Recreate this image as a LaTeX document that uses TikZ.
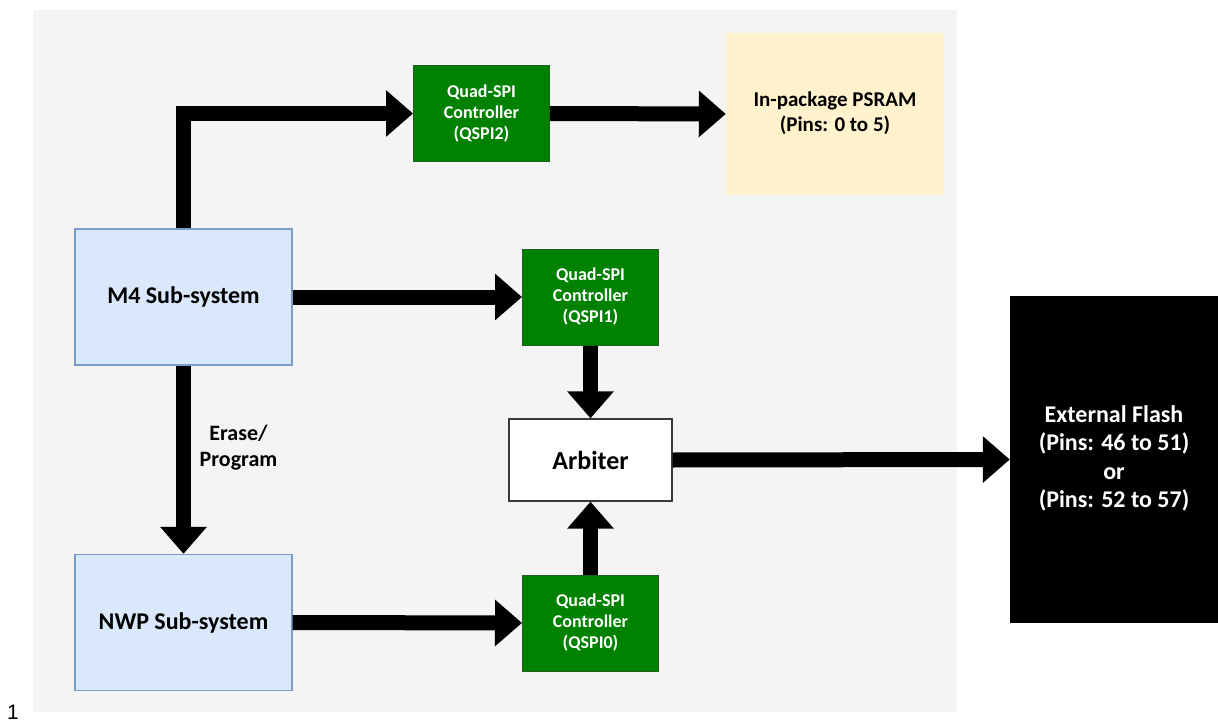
\documentclass[tikz,border=0pt]{standalone}
\usepackage{fontspec}
\setmainfont{Carlito}
\newfontfamily\numfont{Liberation Sans}
\usetikzlibrary{arrows.meta}

\definecolor{panelgray}{HTML}{F4F4F4}
\definecolor{subfill}{HTML}{DAE8FC}
\definecolor{subedge}{HTML}{7E9CC9}
\definecolor{qgreen}{HTML}{008200}
\definecolor{qedge}{HTML}{1E5E1E}
\definecolor{psfill}{HTML}{FFF2CC}
\definecolor{arbedge}{HTML}{3A3A3A}

\begin{document}
\begin{tikzpicture}[x=1pt,y=-1pt,
  blk/.style={rectangle, inner sep=0pt, align=center},
  subsys/.style={blk, fill=subfill, draw=subedge, line width=1.3pt,
    minimum width=217pt, minimum height=136pt,
    font=\bfseries\fontsize{24}{29}\selectfont},
  qspi/.style={blk, fill=qgreen, draw=qedge, line width=1pt, text=white,
    minimum width=136pt, minimum height=96pt,
    font=\bfseries\fontsize{18}{21}\selectfont},
  bigarrow/.style={draw=black, line width=15pt, line join=miter,
    -{Triangle[width=45pt,length=27pt]}}
]
\useasboundingbox (0,0) rectangle (1218,722);

% grey panel behind the on-chip blocks
\fill[panelgray] (33,10) rectangle (957,712);

% blocks
\node[subsys] (m4)  at (183.5,297)   {M4 Sub-system};
\node[subsys] (nwp) at (183.5,622.5) {NWP Sub-system};

\node[qspi] (q2) at (481.5,113.5) {Quad-SPI\\Controller\\(QSPI2)};
\node[qspi] (q1) at (590.5,297)   {Quad-SPI\\Controller\\(QSPI1)};
\node[qspi] (q0) at (590.5,623)   {Quad-SPI\\Controller\\(QSPI0)};

\node[blk, fill=psfill, minimum width=218pt, minimum height=162pt,
      font=\bfseries\fontsize{21}{25}\selectfont] (ps) at (835,114)
      {\raisebox{-2pt}{\begin{tabular}{@{}c@{}}In-package PSRAM\\(Pins: 0 to 5)\end{tabular}}};

\node[blk, fill=white, draw=arbedge, line width=1.3pt,
      minimum width=163pt, minimum height=82pt,
      font=\bfseries\fontsize{26}{31}\selectfont] (arb) at (590.5,460)
      {Arbiter};

\node[blk, fill=black, text=white, minimum width=208pt, minimum height=327pt,
      font=\bfseries\fontsize{24}{28.5}\selectfont] (ext) at (1114,459.5)
      {\raisebox{-3pt}{\begin{tabular}{@{}c@{}}External Flash\\(Pins: 46 to 51)\\or\\(Pins: 52 to 57)\end{tabular}}};

% connections
\draw[bigarrow] (m4.north) |- (q2.west);
\draw[bigarrow] (q2.east) -- (ps.west);
\draw[bigarrow] (m4.east) -- (q1.west);
\draw[bigarrow] (q1.south) -- (arb.north);
\draw[bigarrow] (q0.north) -- (arb.south);
\draw[bigarrow] (arb.east) -- (ext.west);
\draw[bigarrow] (nwp.east) -- (q0.west);
\draw[bigarrow] (m4.south) -- (nwp.north)
  node[midway, xshift=55pt, yshift=12pt, align=center,
       font=\bfseries\fontsize{22}{26}\selectfont] (ep) {Erase/\\Program};

% page number
\node[anchor=base, inner sep=0pt, font=\numfont\fontsize{21}{25}\selectfont]
  (pg) at (13,719) {1};
\end{tikzpicture}
\end{document}
